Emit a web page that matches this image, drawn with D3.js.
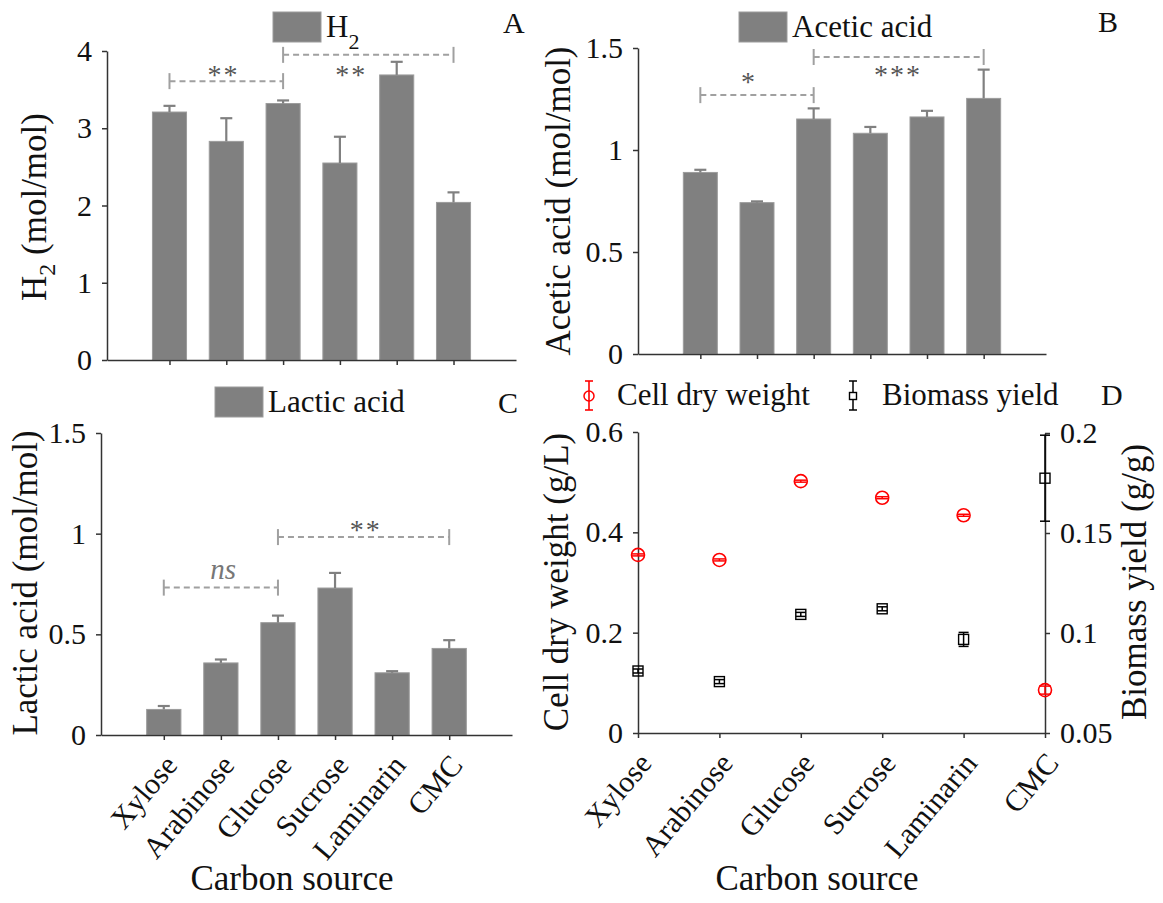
<!DOCTYPE html>
<html lang="en">
<head>
<meta charset="UTF-8">
<title>Fermentation products by carbon source</title>
<style>
  body { margin: 0; background: #fff; }
  svg { display: block; font-family: "Liberation Serif", "Times New Roman", serif; }
</style>
</head>
<body>
<svg id="fig" width="1163" height="903"></svg>
<script src="https://d3js.org/d3.v7.min.js"></script>
<script>
// ---- data ----
var categories = ["Xylose", "Arabinose", "Glucose", "Sucrose", "Laminarin", "CMC"];

var h2Mean = [3.21, 2.83, 3.32, 2.55, 3.69, 2.04];
var h2Err = [0.08, 0.30, 0.04, 0.34, 0.17, 0.13];

var aceticMean = [0.890, 0.742, 1.152, 1.082, 1.162, 1.253];
var aceticErr = [0.013, 0.006, 0.052, 0.031, 0.030, 0.141];

var lacticMean = [0.127, 0.358, 0.558, 0.730, 0.309, 0.430];
var lacticErr = [0.017, 0.017, 0.035, 0.075, 0.008, 0.041];

var cdwMean = [0.355, 0.345, 0.502, 0.469, 0.434, 0.0855];
var cdwErr = [0.002, 0.002, 0.002, 0.002, 0.002, 0.008];

var yieldMean = [0.0810, 0.0757, 0.1093, 0.1121, 0.0968, 0.1774];
var yieldErr = [0.001, 0.001, 0.001, 0.001, 0.0035, 0.0215];

var h2Ticks = [0, 1, 2, 3, 4];
var acidTicks = [0, 0.5, 1, 1.5];
var cdwTicks = [0, 0.2, 0.4, 0.6];
var yieldTicks = [0.05, 0.1, 0.15, 0.2];

// significance brackets: from/to = category number, y = line height, lx/ly = label centre
var sigA = [
  { from: 1, to: 3, y: 3.61, label: "**", lx: 1.95, ly: 3.75 },
  { from: 3, to: 6, y: 3.95, label: "**", lx: 4.2, ly: 3.75 }
];
var sigB = [
  { from: 1, to: 3, y: 1.269, label: "*", lx: 1.86, ly: 1.358 },
  { from: 3, to: 6, y: 1.456, label: "***", lx: 4.49, ly: 1.391 }
];
var sigC = [
  { from: 1, to: 3, y: 0.732, label: "ns", lx: 2.04, ly: 0.81, italic: true },
  { from: 3, to: 6, y: 0.983, label: "**", lx: 4.54, ly: 1.041 }
];

var BAR = "#808080", BAR_EDGE = "#9c9c9c", AXIS = "#333", SIG = "#a0a0a0", STAR = "#555";

var svg = d3.select("#fig");
var catIdx = d3.range(1, categories.length + 1);

function styleAxis(sel, size) {
    sel.select(".domain").attr("stroke", AXIS).attr("stroke-width", 1.5);
    sel.selectAll(".tick line").attr("stroke", AXIS).attr("stroke-width", 1.5);
    sel.selectAll(".tick text").attr("fill", "#111").style("font-size", size + "px")
       .style("font-family", "'Liberation Serif', serif");
}

function xLabels(g, x, y0) {
    g.selectAll("text.xl").data(categories).join("text")
        .attr("class", "xl")
        .attr("transform", function(d, i) { return "translate(" + (x(i + 1) + 15) + "," + (y0 + 31) + ") rotate(-50)"; })
        .attr("text-anchor", "end")
        .style("font-size", "30px")
        .attr("fill", "#111")
        .text(function(d) { return d; });
}

function yTitle(g, bx, cy, parts) {
    var t = g.append("text")
        .attr("transform", "translate(" + bx + "," + cy + ") rotate(-90)")
        .attr("text-anchor", "middle")
        .style("font-size", "35px")
        .attr("fill", "#111");
    parts.forEach(function(p) {
        var s = t.append("tspan").text(p.t);
        if (p.sub) s.style("font-size", "24px").attr("dy", 9);
        if (p.back) s.attr("dy", -9);
    });
}

function legendBox(g, lx, ly, parts) {
    g.append("rect").attr("x", lx).attr("y", ly).attr("width", 48).attr("height", 30)
        .attr("fill", BAR).attr("stroke", BAR_EDGE).attr("stroke-width", 1);
    var t = g.append("text").attr("x", lx + 53).attr("y", ly + 25)
        .style("font-size", "31px").attr("fill", "#111");
    parts.forEach(function(p) {
        var s = t.append("tspan").text(p.t);
        if (p.sub) s.style("font-size", "22px").attr("dy", 12);
    });
}

function barPanel(p) {
    var g = svg.append("g");
    var x = d3.scaleLinear().domain([-0.1, 7.1]).range(p.xRange);
    var y = d3.scaleLinear().domain(p.yDomain).range(p.yRange);
    var bw = (x(1) - x(0)) * 0.6;

    g.selectAll("rect.bar").data(p.values).join("rect")
        .attr("class", "bar")
        .attr("x", function(d, i) { return x(i + 1) - bw / 2; })
        .attr("y", function(d) { return y(d); })
        .attr("width", bw)
        .attr("height", function(d) { return y(0) - y(d); })
        .attr("fill", BAR).attr("stroke", BAR_EDGE).attr("stroke-width", 1);

    // upper error bars only
    var eb = g.selectAll("g.err").data(p.values).join("g").attr("class", "err")
        .attr("stroke", BAR).attr("stroke-width", 2.2);
    eb.append("line")
        .attr("x1", function(d, i) { return x(i + 1); })
        .attr("x2", function(d, i) { return x(i + 1); })
        .attr("y1", function(d) { return y(d); })
        .attr("y2", function(d, i) { return y(d + p.errors[i]); });
    eb.append("line")
        .attr("x1", function(d, i) { return x(i + 1) - 6; })
        .attr("x2", function(d, i) { return x(i + 1) + 6; })
        .attr("y1", function(d, i) { return y(d + p.errors[i]); })
        .attr("y2", function(d, i) { return y(d + p.errors[i]); });

    var xa = g.append("g").attr("transform", "translate(0," + y(0) + ")")
        .call(d3.axisBottom(x).tickValues(catIdx).tickSize(5).tickSizeOuter(0).tickFormat(""));
    styleAxis(xa, 30);
    var ya = g.append("g").attr("transform", "translate(" + x.range()[0] + ",0)")
        .call(d3.axisLeft(y).tickValues(p.yTicks).tickSize(5).tickSizeOuter(0).tickPadding(10)
              .tickFormat(d3.format("~g")));
    styleAxis(ya, 30);

    p.sig.forEach(function(s) {
        var yy = y(s.y);
        g.append("line").attr("x1", x(s.from)).attr("x2", x(s.to)).attr("y1", yy).attr("y2", yy)
            .attr("stroke", SIG).attr("stroke-width", 2).attr("stroke-dasharray", "6,4");
        [s.from, s.to].forEach(function(c) {
            g.append("line").attr("x1", x(c)).attr("x2", x(c)).attr("y1", yy - 8).attr("y2", yy + 8)
                .attr("stroke", SIG).attr("stroke-width", 2);
        });
        g.append("text")
            .attr("x", x(s.lx))
            .attr("y", y(s.ly) + (s.italic ? 7 : 14))
            .attr("text-anchor", "middle")
            .style("font-size", s.italic ? "29px" : "28px")
            .style("font-style", s.italic ? "italic" : "normal")
            .style("letter-spacing", s.italic ? "0px" : "2px")
            .attr("fill", s.italic ? "#777" : STAR)
            .text(s.label);
    });

    legendBox(g, p.legend[0], p.legend[1], p.legendText);

    g.append("text").attr("x", p.letter[0]).attr("y", p.letter[1])
        .style("font-size", "30px").attr("fill", "#111").text(p.letter[2]);

    yTitle(g, p.title[0], p.title[1], p.titleParts);

    if (p.xLabels) {
        xLabels(g, x, y(0));
        g.append("text").attr("x", p.xTitle[0]).attr("y", p.xTitle[1]).attr("text-anchor", "middle")
            .style("font-size", "35px").attr("fill", "#111").text("Carbon source");
    }
}

barPanel({
    xRange: [107, 516], yDomain: [0, 4], yRange: [360, 51], yTicks: h2Ticks,
    values: h2Mean, errors: h2Err, sig: sigA,
    legend: [273, 12], legendText: [{ t: "H" }, { t: "2", sub: true }],
    letter: [503, 33, "A"],
    title: [46, 207], titleParts: [{ t: "H" }, { t: "2", sub: true }, { t: " (mol/mol)", back: true }]
});

barPanel({
    xRange: [638, 1046], yDomain: [0, 1.5], yRange: [354, 48], yTicks: acidTicks,
    values: aceticMean, errors: aceticErr, sig: sigB,
    legend: [739, 12], legendText: [{ t: "Acetic acid" }],
    letter: [1098, 32, "B"],
    title: [570, 201], titleParts: [{ t: "Acetic acid (mol/mol)" }]
});

barPanel({
    xRange: [101, 512], yDomain: [0, 1.5], yRange: [735, 433], yTicks: acidTicks,
    values: lacticMean, errors: lacticErr, sig: sigC,
    legend: [215, 387], legendText: [{ t: "Lactic acid" }],
    letter: [498, 413, "C"],
    title: [37, 583], titleParts: [{ t: "Lactic acid (mol/mol)" }],
    xLabels: true, xTitle: [292, 890]
});

// ---- panel D: cell dry weight (left axis) and biomass yield (right axis) ----
(function() {
    var g = svg.append("g");
    var x = d3.scaleLinear().domain([1, 6]).range([638, 1045]);
    var yL = d3.scaleLinear().domain([0, 0.6]).range([733, 432]);
    var yR = d3.scaleLinear().domain([0.05, 0.2]).range([733, 433]);

    var xa = g.append("g").attr("transform", "translate(0,733)")
        .call(d3.axisBottom(x).tickValues(catIdx).tickSize(5).tickSizeOuter(0).tickFormat(""));
    styleAxis(xa, 30);
    var la = g.append("g").attr("transform", "translate(638,0)")
        .call(d3.axisLeft(yL).tickValues(cdwTicks).tickSize(5).tickSizeOuter(0).tickPadding(10)
              .tickFormat(d3.format("~g")));
    styleAxis(la, 30);
    var ra = g.append("g").attr("transform", "translate(1045,0)")
        .call(d3.axisRight(yR).tickValues(yieldTicks).tickSize(5).tickSizeOuter(0).tickPadding(10)
              .tickFormat(d3.format("~g")));
    styleAxis(ra, 30);

    function errBars(vals, errs, y, col, cap) {
        var e = g.append("g").attr("stroke", col).attr("stroke-width", 1.5);
        vals.forEach(function(v, i) {
            var cx = x(i + 1), top = y(v + errs[i]), bot = y(v - errs[i]);
            e.append("line").attr("x1", cx).attr("x2", cx).attr("y1", top).attr("y2", bot);
            e.append("line").attr("x1", cx - cap).attr("x2", cx + cap).attr("y1", top).attr("y2", top);
            e.append("line").attr("x1", cx - cap).attr("x2", cx + cap).attr("y1", bot).attr("y2", bot);
        });
    }

    errBars(yieldMean, yieldErr, yR, "#000", 5);
    g.selectAll("rect.yld").data(yieldMean).join("rect").attr("class", "yld")
        .attr("x", function(d, i) { return x(i + 1) - 5; })
        .attr("y", function(d) { return yR(d) - 5; })
        .attr("width", 10).attr("height", 10)
        .attr("fill", "none").attr("stroke", "#000").attr("stroke-width", 1.4);

    errBars(cdwMean, cdwErr, yL, "#ff0000", 6);
    g.selectAll("circle.cdw").data(cdwMean).join("circle").attr("class", "cdw")
        .attr("cx", function(d, i) { return x(i + 1); })
        .attr("cy", function(d) { return yL(d); })
        .attr("r", 6.5)
        .attr("fill", "none").attr("stroke", "#ff0000").attr("stroke-width", 1.6);

    // legend
    var lg = g.append("g");
    lg.append("line").attr("x1", 589).attr("x2", 589).attr("y1", 381).attr("y2", 410).attr("stroke", "#ff0000").attr("stroke-width", 1.6);
    lg.append("line").attr("x1", 585).attr("x2", 593).attr("y1", 381).attr("y2", 381).attr("stroke", "#ff0000").attr("stroke-width", 1.6);
    lg.append("line").attr("x1", 585).attr("x2", 593).attr("y1", 410).attr("y2", 410).attr("stroke", "#ff0000").attr("stroke-width", 1.6);
    lg.append("circle").attr("cx", 589).attr("cy", 396).attr("r", 5).attr("fill", "none").attr("stroke", "#ff0000").attr("stroke-width", 1.5);
    lg.append("text").attr("x", 617).attr("y", 405).style("font-size", "31px").attr("fill", "#111").text("Cell dry weight");

    lg.append("line").attr("x1", 853).attr("x2", 853).attr("y1", 381).attr("y2", 410).attr("stroke", "#000").attr("stroke-width", 1.5);
    lg.append("line").attr("x1", 849).attr("x2", 857).attr("y1", 381).attr("y2", 381).attr("stroke", "#000").attr("stroke-width", 1.5);
    lg.append("line").attr("x1", 849).attr("x2", 857).attr("y1", 410).attr("y2", 410).attr("stroke", "#000").attr("stroke-width", 1.5);
    lg.append("rect").attr("x", 849.5).attr("y", 392.5).attr("width", 7).attr("height", 7).attr("fill", "#fff").attr("stroke", "#000").attr("stroke-width", 1.4);
    lg.append("text").attr("x", 882).attr("y", 405).style("font-size", "31px").attr("fill", "#111").text("Biomass yield");

    g.append("text").attr("x", 1101).attr("y", 405).style("font-size", "30px").attr("fill", "#111").text("D");

    yTitle(g, 568, 582, [{ t: "Cell dry weight (g/L)" }]);
    yTitle(g, 1146, 582, [{ t: "Biomass yield (g/g)" }]);

    xLabels(g, x, 733);
    g.append("text").attr("x", 817).attr("y", 890).attr("text-anchor", "middle")
        .style("font-size", "35px").attr("fill", "#111").text("Carbon source");
})();
</script>
</body>
</html>
